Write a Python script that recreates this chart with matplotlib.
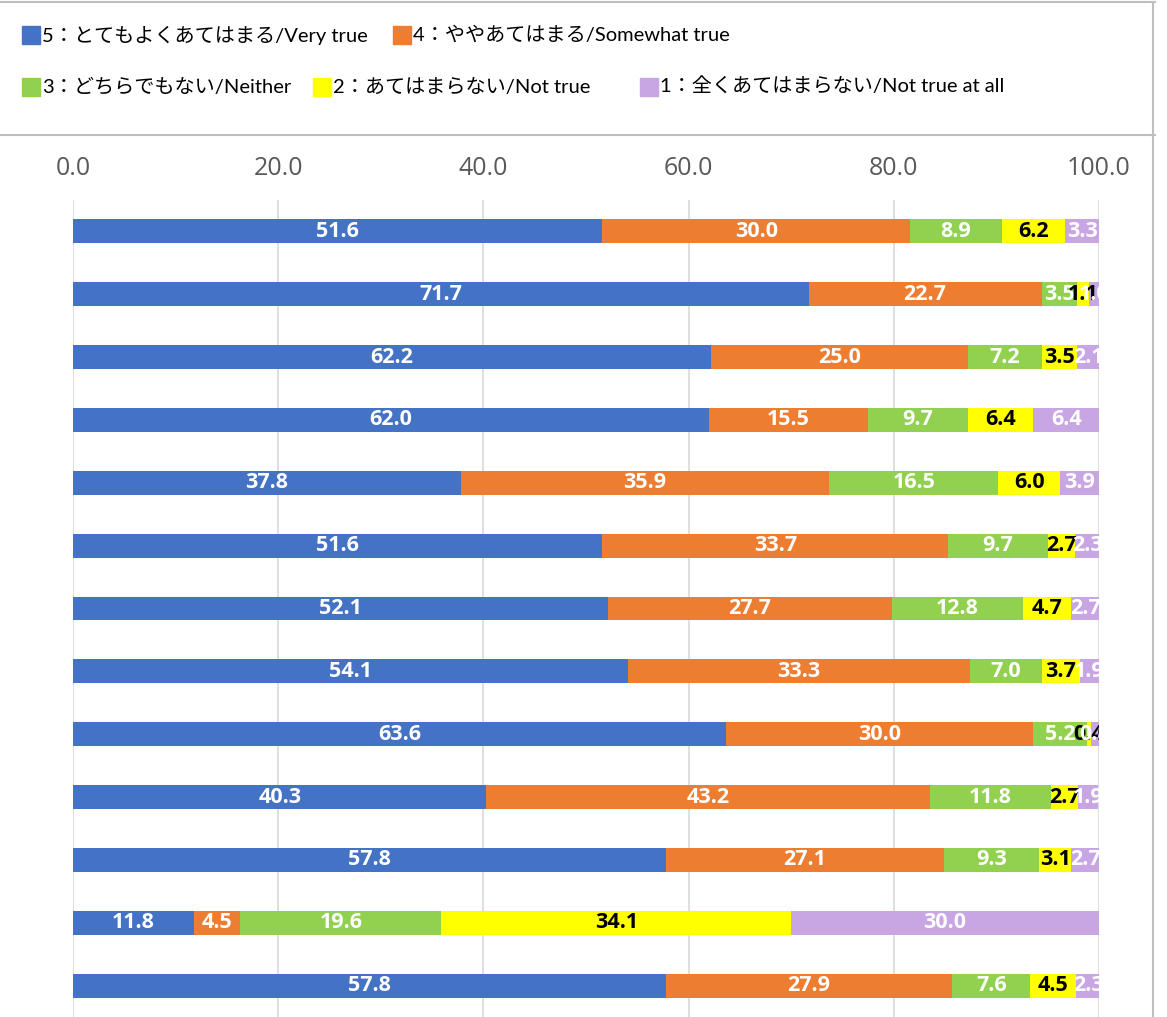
import matplotlib
matplotlib.use('Agg')
import matplotlib.pyplot as plt
from matplotlib.patches import Rectangle
from matplotlib.lines import Line2D
import numpy as np

# data (rows top to bottom)
very_true = [51.6, 71.7, 62.2, 62.0, 37.8, 51.6, 52.1, 54.1, 63.6, 40.3, 57.8, 11.8, 57.8]
somewhat = [30.0, 22.7, 25.0, 15.5, 35.9, 33.7, 27.7, 33.3, 30.0, 43.2, 27.1, 4.5, 27.9]
neither = [8.9, 3.5, 7.2, 9.7, 16.5, 9.7, 12.8, 7.0, 5.2, 11.8, 9.3, 19.6, 7.6]
not_true = [6.2, 1.1, 3.5, 6.4, 6.0, 2.7, 4.7, 3.7, 0.4, 2.7, 3.1, 34.1, 4.5]
not_at_all = [3.3, 1.0, 2.1, 6.4, 3.9, 2.3, 2.7, 1.9, 0.8, 1.9, 2.7, 30.0, 2.3]

series_labels = ['5：とてもよくあてはまる/Very true', '4：ややあてはまる/Somewhat true',
                 '3：どちらでもない/Neither', '2：あてはまらない/Not true',
                 '1：全くあてはまらない/Not true at all']
colors = ['#4472C4', '#ED7D31', '#92D050', '#FFFF00', '#C8A6E3']
label_colors = ['white', 'white', 'white', 'black', 'white']
ticks = [0, 20, 40, 60, 80, 100]

fam = ['Lato', 'Noto Sans CJK JP', 'DejaVu Sans']
plt.rcParams['font.family'] = fam

fig = plt.figure(figsize=(11.67, 10.17), dpi=100)
ax = fig.add_axes([73/1167, 0.0, 1026/1167, 817/1017])

series = [very_true, somewhat, neither, not_true, not_at_all]
n = len(very_true)
y = np.arange(n)
left = np.zeros(n)
for vals, c, lc in zip(series, colors, label_colors):
    vals = np.array(vals)
    ax.barh(y, vals, left=left, height=0.38, color=c, zorder=3)
    for yi, (l, v) in enumerate(zip(left, vals)):
        t = ax.text(l + v / 2, yi, '%.1f' % v, ha='center', va='center',
                    color=lc, fontsize=15.5, fontweight='bold', zorder=4,
                    family=['Open Sans', 'DejaVu Sans'])
        t.set_clip_on(True)
    left = left + vals

ax.set_xlim(0, 100)
ax.set_ylim(n - 0.5, -0.5)
ax.set_yticks([])
ax.xaxis.tick_top()
ax.set_xticks(ticks)
ax.set_xticklabels(['%.1f' % t for t in ticks])
ax.tick_params(axis='x', length=0, pad=14, labelsize=18, labelcolor='#595959')
for lab in ax.get_xticklabels():
    lab.set_fontfamily(['Open Sans', 'DejaVu Sans'])
ax.grid(axis='x', color='#D9D9D9', linewidth=1.2, zorder=0)
for s in ax.spines.values():
    s.set_visible(False)

# legend drawn by hand to match the layout
W, H = 1167, 1017
leg_pos = [(22, 35), (393, 35), (22, 87), (313, 87), (640, 87)]
for (px, py), c, lab in zip(leg_pos, colors, series_labels):
    fig.add_artist(Rectangle((px / W, 1 - (py + 9) / H), 18 / W, 18 / H,
                             transform=fig.transFigure, color=c))
    fig.text((px + 20) / W, 1 - py / H, lab, ha='left', va='center',
             fontsize=14.5, color='black', family=fam)

# chart borders
fig.add_artist(Line2D([0, 1155 / W], [1 - 2 / H, 1 - 2 / H], transform=fig.transFigure,
                      color='#BFBFBF', linewidth=1.5))
fig.add_artist(Line2D([0, 1155 / W], [1 - 135 / H, 1 - 135 / H], transform=fig.transFigure,
                      color='#BFBFBF', linewidth=1.5))
fig.add_artist(Line2D([1153 / W, 1153 / W], [0, 1 - 2 / H], transform=fig.transFigure,
                      color='#BFBFBF', linewidth=1.5))

fig.savefig('out.png', dpi=100)
